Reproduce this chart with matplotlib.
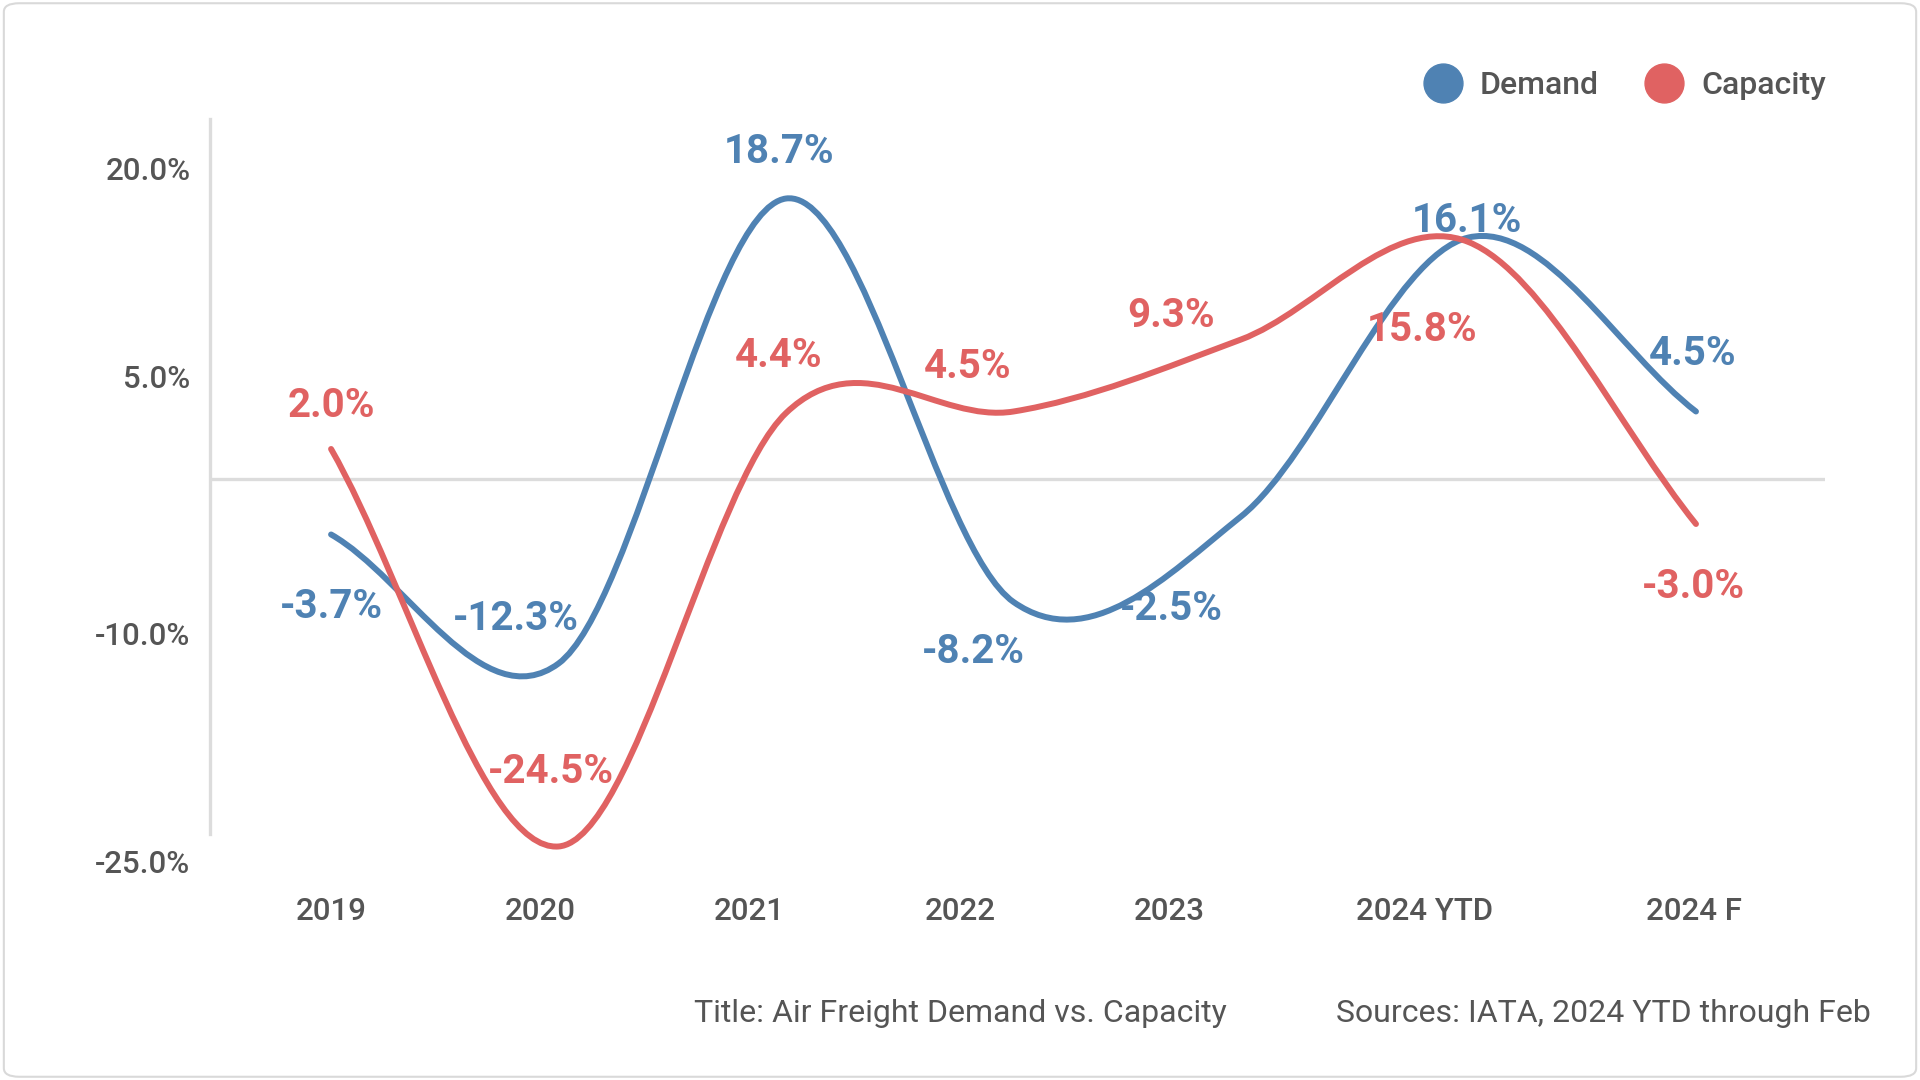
import numpy as np
import matplotlib.pyplot as plt
from matplotlib.path import Path
from matplotlib.patches import PathPatch, FancyBboxPatch
from matplotlib.lines import Line2D

plt.rcParams['font.family'] = ['Roboto', 'DejaVu Sans']

years = ['2019', '2020', '2021', '2022', '2023', '2024 YTD', '2024 F']
demand = [-3.7, -12.3, 18.7, -8.2, -2.5, 16.1, 4.5]
capacity = [2.0, -24.5, 4.4, 4.5, 9.3, 15.8, -3.0]
y_ticks = [20.0, 5.0, -10.0, -25.0]

# layout only: where the axis labels sit, and data label offsets (pixels)
tick_pos = [0.0, 0.919, 1.839, 2.765, 3.685, 4.805, 5.989]
ytick_pos = [20.7, 6.8, -10.3, -25.5]
dem_off = [(0, -73), (-43, 44), (-7, 47), (-40, -50), (-70, -93), (-2, 17), (-3, 57)]
cap_off = [(0, 43), (-8, 74), (-7, 57), (-46, 44), (-70, 24), (-46, -88), (-3, -63)]

BLUE = '#4f82b3'
RED = '#e06262'
GREY = '#555555'
LIGHT = '#dcdcdc'


def smooth_path(xs, ys):
    pts = np.column_stack([xs, ys]).astype(float)
    tang = np.zeros_like(pts)
    tang[1:-1] = (pts[2:] - pts[:-2]) / 2
    tang[0] = pts[1] - pts[0]
    tang[-1] = pts[-1] - pts[-2]
    verts = [pts[0]]
    codes = [Path.MOVETO]
    for i in range(len(pts) - 1):
        verts += [pts[i] + tang[i] / 3, pts[i + 1] - tang[i + 1] / 3, pts[i + 1]]
        codes += [Path.CURVE4] * 3
    return Path(verts, codes)


fig = plt.figure(figsize=(19.2, 10.8), dpi=100)
fig.patch.set_facecolor('white')
fig.add_artist(FancyBboxPatch((0.002, 0.003), 0.996, 0.994,
                              boxstyle='round,pad=0,rounding_size=0.008',
                              transform=fig.transFigure, facecolor='none',
                              edgecolor='#d9d9d9', lw=1.5))

ax = fig.add_axes([0.1094, 0.1954, 0.8411, 0.6944])
x = np.arange(len(years))

ax.axhline(0, color=LIGHT, lw=2.4, zorder=1)
for vals, col in [(demand, BLUE), (capacity, RED)]:
    ax.add_patch(PathPatch(smooth_path(x, vals), facecolor='none', edgecolor=col,
                           lw=4.3, capstyle='round', joinstyle='round', zorder=3))

for vals, offs, col in [(demand, dem_off, BLUE), (capacity, cap_off, RED)]:
    for xi, v, (dx, dy) in zip(x, vals, offs):
        ax.annotate(f'{v:.1f}%', xy=(xi, v), xytext=(dx, dy), textcoords='offset pixels',
                    ha='center', va='center', fontsize=29, fontweight='bold',
                    color=col, zorder=4)

ax.set_xlim(-0.532, 6.567)
ax.set_ylim(-26, 24)
ax.set_xticks(tick_pos)
ax.set_xticklabels(years)
ax.set_yticks(ytick_pos)
ax.set_yticklabels([f'{t:.1f}%' for t in y_ticks])
ax.tick_params(length=0, labelsize=22.5, labelcolor=GREY)
ax.tick_params(axis='x', pad=20)
ax.tick_params(axis='y', pad=14)
for lab in ax.get_xticklabels() + ax.get_yticklabels():
    lab.set_fontweight(500)

for s in ['top', 'right', 'bottom']:
    ax.spines[s].set_visible(False)
ax.spines['left'].set_color(LIGHT)
ax.spines['left'].set_linewidth(2.4)
ax.spines['left'].set_bounds(-23.7, 24)

handles = [Line2D([], [], ls='', marker='o', markersize=28, color=BLUE),
           Line2D([], [], ls='', marker='o', markersize=28, color=RED)]
leg = fig.legend(handles, ['Demand', 'Capacity'], loc='center right',
                 bbox_to_anchor=(0.966, 0.921), ncol=2, frameon=False,
                 fontsize=23, handletextpad=0.55, columnspacing=1.45,
                 handlelength=1.2)
for t in leg.get_texts():
    t.set_color(GREY)
    t.set_fontweight(500)

fig.text(0.3615, 0.062, 'Title: Air Freight Demand vs. Capacity', ha='left', va='center',
         fontsize=23, color=GREY)
fig.text(0.9745, 0.062, 'Sources: IATA, 2024 YTD through Feb', ha='right', va='center',
         fontsize=23, color=GREY)

fig.savefig('out.png', dpi=100, facecolor='white')
